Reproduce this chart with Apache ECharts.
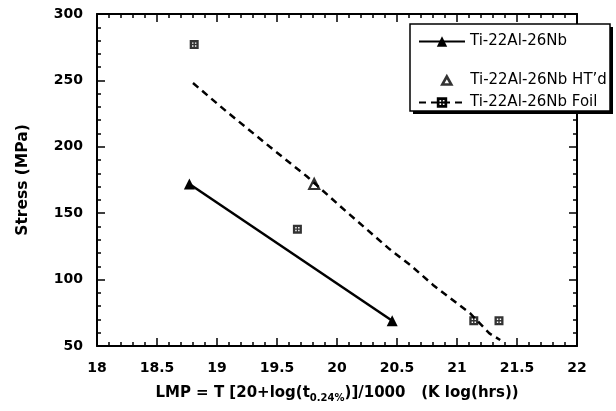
<!DOCTYPE html>
<html>
	<head>
		<meta charset="UTF-8">
		<title>LMP stress chart</title>
		<style>
			html, body { margin: 0; padding: 0; background: #fff; }
			#chart { width: 616px; height: 411px; }
		</style>
	</head>
	<body>
		<div id="chart"></div>
	</body>
	<script src="https://cdn.jsdelivr.net/npm/echarts@6/dist/echarts.min.js" type="text/javascript" charset="utf-8"></script>
	<script type="text/javascript">
		// data
		var baseName = 'Ti-22Al-26Nb';
		var htName = 'Ti-22Al-26Nb HT\u2019d';
		var foilName = 'Ti-22Al-26Nb Foil';

		var basePoints = [[18.77, 172], [20.46, 69]];
		var htPoints = [[19.81, 172]];
		var foilPoints = [[18.81, 277], [19.67, 138], [21.14, 69], [21.35, 69]];
		// dashed fit line for the foil
		var foilFit = [[18.80, 248], [19.08, 226.5], [19.44, 200], [19.75, 177.6], [20.08, 151],
			[20.44, 122.8], [20.61, 111], [20.80, 96], [21.11, 74.6], [21.27, 59.5], [21.36, 54.5]];

		var xTicks = { min: 18, max: 22, step: 0.5 };
		var yTicks = { min: 50, max: 300, step: 50 };

		// black square with four small holes
		var boxSymbol = 'path://M0 0H10V10H0Z M2.6 2.6V4.2H4.2V2.6Z M5.8 2.6V4.2H7.4V2.6Z M2.6 5.8V7.4H4.2V5.8Z M5.8 5.8V7.4H7.4V5.8Z';

		var font = 'DejaVu Sans, sans-serif';

		var chart = echarts.init(document.getElementById('chart'));

		function frameAxis(pos, t) {
			return {
				type: 'value',
				position: pos,
				min: t.min, max: t.max, interval: t.step,
				axisLine: { show: true, onZero: false, lineStyle: { color: '#000', width: 2 } },
				axisTick: { show: true, inside: true, length: 8, lineStyle: { color: '#000', width: 1.5 } },
				minorTick: { show: true, splitNumber: 5, length: 4, lineStyle: { color: '#000', width: 1.5 } },
				axisLabel: { show: false },
				splitLine: { show: false }
			};
		}

		var xMain = frameAxis('bottom', xTicks);
		xMain.axisLabel = { show: true, margin: 15, color: '#000', fontWeight: 'bold', fontSize: 14, fontFamily: font };
		xMain.name = 'LMP = T [20+log(t{s|0.24%})]/1000   (K log(hrs))';
		xMain.nameLocation = 'middle';
		xMain.nameGap = 38;
		xMain.nameTextStyle = {
			color: '#000', fontWeight: 'bold', fontSize: 15, fontFamily: font,
			rich: { s: { fontSize: 10, fontWeight: 'bold', fontFamily: font, color: '#000', padding: [9, 0, 0, 0] } }
		};

		var yMain = frameAxis('left', yTicks);
		yMain.axisLabel = { show: true, margin: 14, color: '#000', fontWeight: 'bold', fontSize: 14, fontFamily: font };
		yMain.name = 'Stress (MPa)';
		yMain.nameLocation = 'middle';
		yMain.nameGap = 66;
		yMain.nameTextStyle = { color: '#000', fontWeight: 'bold', fontSize: 15.5, fontFamily: font };

		var legendText = { color: '#000', fontSize: 15, fontFamily: font };

		var option = {
			backgroundColor: '#fff',
			animation: false,
			grid: { left: 97, right: 39, top: 14, bottom: 65 },
			xAxis: [xMain, frameAxis('top', xTicks)],
			yAxis: [yMain, frameAxis('right', yTicks)],
			graphic: [
				{ type: 'rect', z: 5, shape: { x: 413, y: 27, width: 200, height: 87 }, style: { fill: '#000' } },
				{ type: 'rect', z: 5, shape: { x: 410, y: 24, width: 200, height: 87 },
					style: { fill: '#fff', stroke: '#000', lineWidth: 1.5 } }
			],
			legend: [
				{ z: 6, left: 418, top: 34, padding: 0, itemWidth: 46, itemHeight: 13, data: [baseName], textStyle: legendText, selectedMode: false },
				{ z: 6, left: 441, top: 73, padding: 0, itemWidth: 9, itemHeight: 8,
					data: [{ name: htName, itemStyle: { color: '#fff', borderColor: '#000', borderWidth: 2.6 } }],
					textStyle: { color: '#000', fontSize: 15, fontFamily: font, padding: [0, 0, 0, 14] }, selectedMode: false },
				{ z: 6, left: 418, top: 95, padding: 0, itemWidth: 46, itemHeight: 13, data: [foilName], textStyle: legendText, selectedMode: false }
			],
			series: [
				{
					name: baseName, type: 'line', data: basePoints,
					symbol: 'triangle', symbolSize: 11,
					itemStyle: { color: '#000' },
					lineStyle: { color: '#000', width: 2.5 }
				},
				{
					name: htName, type: 'scatter', data: htPoints,
					symbol: 'triangle', symbolSize: 10,
					itemStyle: { color: '#fff', borderColor: '#000', borderWidth: 2.2 }
				},
				{
					name: foilName, type: 'line', data: foilFit,
					symbol: boxSymbol, symbolSize: 9, showSymbol: false,
					itemStyle: { color: '#000' },
					lineStyle: { color: '#000', width: 2.5, type: [7, 5] }
				},
				{
					name: foilName, type: 'scatter', data: foilPoints,
					symbol: boxSymbol, symbolSize: 9,
					itemStyle: { color: '#000' }
				}
			]
		};

		chart.setOption(option);
	</script>
</html>
